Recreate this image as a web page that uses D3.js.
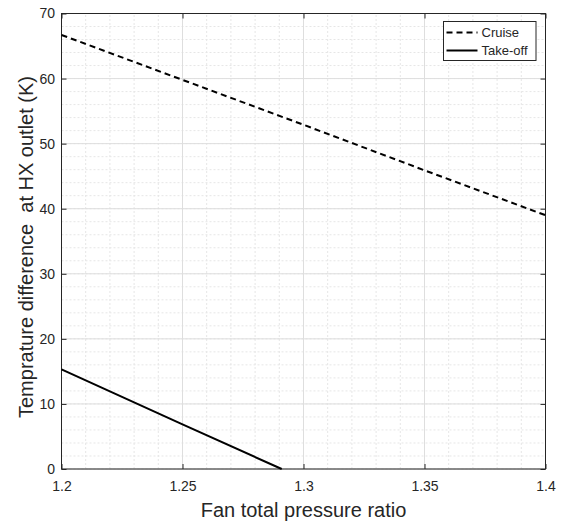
<!DOCTYPE html>
<html>
<head>
<meta charset="utf-8">
<script src="https://cdn.jsdelivr.net/npm/d3@7"></script>
<style>
  body { margin: 0; background: #fff; }
  svg { display: block; font-family: "Liberation Sans", Arial, sans-serif; }
</style>
</head>
<body>
<script>
// data
var pressureRatio = [1.2, 1.25, 1.3, 1.35, 1.4];
var cruiseDiff = [66.7, 59.8, 52.9, 45.9, 39.0];
var takeoffRatio = [1.2, 1.25, 1.291];
var takeoffDiff = [15.3, 6.85, 0];
var xTicks = [1.2, 1.25, 1.3, 1.35, 1.4];
var yTicks = [0, 10, 20, 30, 40, 50, 60, 70];
var seriesNames = ["Cruise", "Take-off"];

var width = 563, height = 522;
var margin = { left: 61.5, right: 17.5, top: 13.5, bottom: 53 };

var svg = d3.select("body").append("svg")
  .attr("width", width)
  .attr("height", height);

var x = d3.scaleLinear().domain([1.2, 1.4]).range([margin.left, width - margin.right]);
var y = d3.scaleLinear().domain([0, 70]).range([height - margin.bottom, margin.top]);

// minor grid (dotted)
var minorX = d3.range(0, 21).map(function(i) { return 1.2 + i * 0.01; });
var minorY = d3.range(0, 36).map(function(i) { return i * 2; });
var grid = svg.append("g");
grid.selectAll(".mx").data(minorX).enter().append("line")
  .attr("x1", function(d) { return x(d); }).attr("x2", function(d) { return x(d); })
  .attr("y1", y(0)).attr("y2", y(70))
  .attr("stroke", "#e6e6e6").attr("stroke-width", 1).attr("stroke-dasharray", "2,2");
grid.selectAll(".my").data(minorY).enter().append("line")
  .attr("y1", function(d) { return y(d); }).attr("y2", function(d) { return y(d); })
  .attr("x1", x(1.2)).attr("x2", x(1.4))
  .attr("stroke", "#e6e6e6").attr("stroke-width", 1).attr("stroke-dasharray", "2,2");

// major grid
grid.selectAll(".gx").data(xTicks).enter().append("line")
  .attr("x1", function(d) { return x(d); }).attr("x2", function(d) { return x(d); })
  .attr("y1", y(0)).attr("y2", y(70))
  .attr("stroke", "#dedede").attr("stroke-width", 1);
grid.selectAll(".gy").data(yTicks).enter().append("line")
  .attr("y1", function(d) { return y(d); }).attr("y2", function(d) { return y(d); })
  .attr("x1", x(1.2)).attr("x2", x(1.4))
  .attr("stroke", "#dedede").attr("stroke-width", 1);

// axes (MATLAB style, ticks inside)
var axisColor = "#262626";
function styleAxis(g) {
  g.select(".domain").remove();
  g.selectAll(".tick line").attr("stroke", axisColor);
  g.selectAll(".tick text").attr("fill", axisColor).style("font-size", "14px");
}
svg.append("g").attr("transform", "translate(0," + y(0) + ")")
  .call(d3.axisBottom(x).tickValues(xTicks).tickSizeInner(-5).tickSizeOuter(0).tickPadding(12)
    .tickFormat(function(d) { return String(+d.toFixed(2)); }))
  .call(styleAxis);
svg.append("g").attr("transform", "translate(" + x(1.2) + ",0)")
  .call(d3.axisLeft(y).tickValues(yTicks).tickSizeInner(-5).tickSizeOuter(0).tickPadding(6.5))
  .call(styleAxis);
svg.append("g").attr("transform", "translate(0," + y(70) + ")")
  .call(d3.axisTop(x).tickValues(xTicks).tickSizeInner(-5).tickSizeOuter(0).tickFormat(""))
  .call(styleAxis);
svg.append("g").attr("transform", "translate(" + x(1.4) + ",0)")
  .call(d3.axisRight(y).tickValues(yTicks).tickSizeInner(-5).tickSizeOuter(0).tickFormat(""))
  .call(styleAxis);

// box
svg.append("rect")
  .attr("x", x(1.2)).attr("y", y(70))
  .attr("width", x(1.4) - x(1.2)).attr("height", y(0) - y(70))
  .attr("fill", "none").attr("stroke", axisColor).attr("stroke-width", 1);

// series lines
var line = d3.line()
  .x(function(d) { return x(d[0]); })
  .y(function(d) { return y(d[1]); });

svg.append("path")
  .datum(d3.zip(pressureRatio, cruiseDiff))
  .attr("d", line)
  .attr("fill", "none").attr("stroke", "#000").attr("stroke-width", 2)
  .attr("stroke-dasharray", "6,4");

svg.append("path")
  .datum(d3.zip(takeoffRatio, takeoffDiff))
  .attr("d", line)
  .attr("fill", "none").attr("stroke", "#000").attr("stroke-width", 2);

// legend
var legend = svg.append("g").attr("transform", "translate(443.5,21.5)");
legend.append("rect")
  .attr("width", 92.5).attr("height", 39)
  .attr("fill", "#fff").attr("stroke", axisColor).attr("stroke-width", 1);
seriesNames.forEach(function(name, i) {
  var ly = 11 + i * 18;
  legend.append("line")
    .attr("x1", 3).attr("x2", 34).attr("y1", ly).attr("y2", ly)
    .attr("stroke", "#000").attr("stroke-width", 2)
    .attr("stroke-dasharray", i === 0 ? "6,4" : null);
  legend.append("text")
    .attr("x", 38).attr("y", ly + 4.5)
    .attr("fill", axisColor)
    .style("font-size", "13px")
    .text(name);
});

// axis titles
svg.append("text")
  .attr("x", (x(1.2) + x(1.4)) / 2).attr("y", 517)
  .attr("text-anchor", "middle")
  .attr("fill", axisColor)
  .style("font-size", "20px")
  .text("Fan total pressure ratio");

svg.append("text")
  .attr("transform", "translate(33,247) rotate(-90)")
  .attr("text-anchor", "middle")
  .attr("fill", axisColor)
  .style("font-size", "20px")
  .style("white-space", "pre")
  .attr("xml:space", "preserve")
  .text("Temprature difference  at HX outlet (K)");
</script>
</body>
</html>
